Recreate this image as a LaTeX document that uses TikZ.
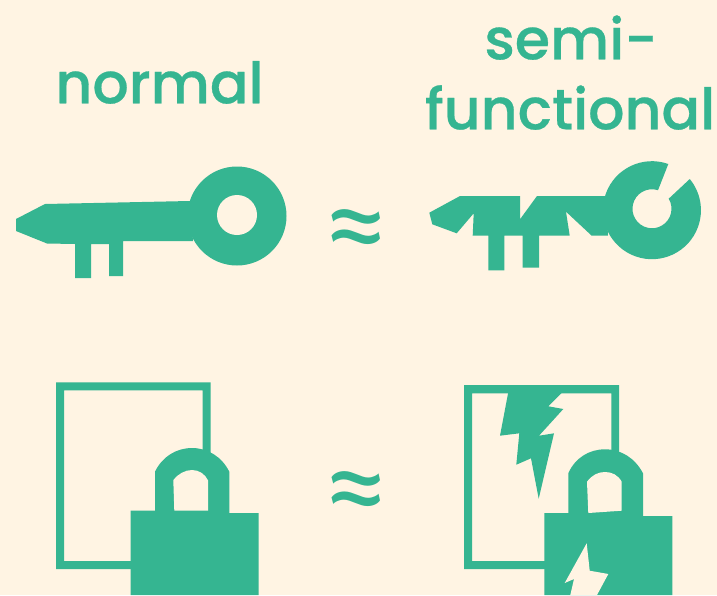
\documentclass[tikz,border=0pt]{standalone}
\usepackage{fontspec}
\setmainfont[FakeBold=0.5]{Poppins Medium}
\newfontfamily\ttlfont[FakeBold=0.5]{Poppins Medium}
\newfontfamily\apxfont{Lato}
\definecolor{keygreen}{HTML}{35B591}
\definecolor{paper}{HTML}{FFF4E3}
\tikzset{
  ink/.style={fill=keygreen,draw=none},
  hole/.style={fill=paper,draw=none},
  ttl/.style={text=keygreen,font=\ttlfont\fontsize{57}{57}\selectfont,inner sep=0pt,anchor=base},
  approx/.style={text=keygreen,font=\apxfont\fontsize{120}{120}\selectfont,inner sep=0pt}
}
\begin{document}
\begin{tikzpicture}[x=1pt,y=-1pt]
\useasboundingbox (0,0) rectangle (717,595);
\fill[paper] (0,0) rectangle (717,595);
\clip (0,0) rectangle (717,595);
% titles
\node[ttl] (tnormal) at (159.5,103.3) {normal};
\node[ttl] (tsemi) at (571,59.3) {semi-};
\node[ttl] (tfunc) at (570,129.3) {functional};
\node[approx] (a1) at (356.5,238.5) {≈};
\node[approx] (a2) at (356.5,500.5) {≈};
% normal key
\fill[ink] (16,219) -- (45,204) -- (190,201) -- (193,241) -- (123,241) -- (123,276) -- (109,276) -- (109,244) -- (91,244) -- (91,278) -- (75,278) -- (75,244) -- (47,243.5) -- (16,231) -- cycle;
\fill[ink] (237,216) circle (49.5);
\fill[hole] (237,215) circle (20);
% semi key
\fill[ink] (429.3,212.7) -- (460,196) -- (520,196) -- (520,219.3) -- (537,196) -- (606,196) -- (608,235.7) -- (591.7,235.7) -- (566,211.7) -- (569.7,235.7) -- (539,235.7) -- (539,267.7) -- (522.7,267.7) -- (522.7,235.7) -- (504.3,235.7) -- (504.3,270.3) -- (488.3,270.3) -- (488.3,235.7) -- (472.7,235.7) -- (473.7,213.3) -- (456.7,233.3) -- (432.3,224.3) -- cycle;
\fill[ink] (668.3,164) arc[start angle=-70.5,end angle=-399.5,radius=49] -- (668.7,198.7) arc[start angle=-31,end angle=288,radius=19.5] -- cycle;
% normal lock
\fill[ink,even odd rule] (56,382.3) rectangle (210.7,569) (64,390.3) rectangle (202.7,561);
\fill[ink] (130.7,510.7) -- (155,510.7) -- (155,471.7) .. controls (162,457) and (176,448) .. (192,448) .. controls (208,448) and (222,457) .. (229.3,471.7) -- (229.3,513) -- (258.7,513) -- (258.7,595) -- (130.7,595) -- cycle;
\fill[hole] (173.3,480) .. controls (178,474) and (185,470) .. (192,470) .. controls (199,470) and (205,474) .. (208,480.3) -- (208,510.7) -- (174.3,510.7) -- cycle;
% semi lock
\fill[ink,even odd rule] (464,385) rectangle (619,569) (472,393.3) rectangle (611.3,561);
\fill[ink] (508.3,392) -- (500,435.7) -- (519.3,433.3) -- (516.3,464.7) -- (531,458.3) -- (538.7,498.7) -- (554,433.3) -- (539,435.7) -- (563.3,409) -- (548.3,406.3) -- (562.7,392) -- cycle;
\fill[ink] (544.3,513) -- (568.3,513) -- (568.3,473.3) .. controls (575,458) and (589,449.3) .. (605,449.3) .. controls (621,449.3) and (635,458) .. (643,473.3) -- (643,516) -- (672.3,516) -- (672.3,595) -- (544.3,595) -- cycle;
\fill[hole] (587,481.7) .. controls (592,475) and (598,472) .. (605,472) .. controls (612,472) and (618,475) .. (621.7,481.7) -- (621.7,510.7) -- (588.3,513) -- cycle;
\fill[hole] (586.7,543.3) -- (589.7,570.7) -- (608.3,574) -- (597,595) -- (570.3,595) -- (574,579) -- (564.7,583) -- cycle;
\end{tikzpicture}
\end{document}
